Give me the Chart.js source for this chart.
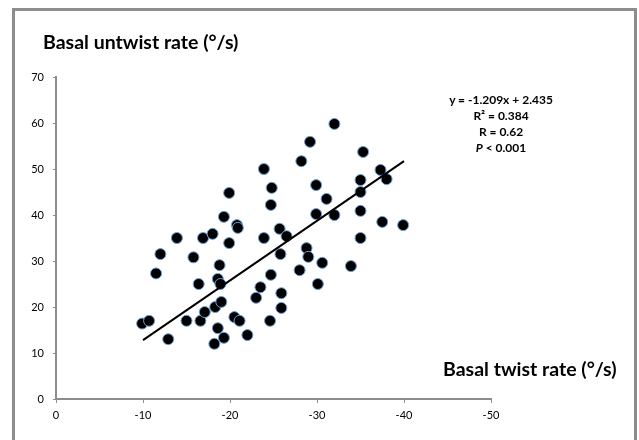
<!DOCTYPE html>
<html>
<head>
<meta charset="utf-8">
<script src="https://cdn.jsdelivr.net/npm/chart.js@4/dist/chart.umd.min.js"></script>
<style>
    body { margin: 0; background: #fff; }
    #wrap { position: relative; width: 639px; height: 440px; overflow: hidden; font-family: Lato, sans-serif; }
    #frame { position: absolute; left: 12px; top: 8px; width: 619px; height: 440px; border: 3px solid #8c8c8c; border-bottom: none; }
    #chart { position: absolute; left: 0; top: 0; }
    .ttl { position: absolute; font-weight: bold; font-size: 19.5px; line-height: 22px; color: #000; white-space: nowrap; }
    #note { position: absolute; left: 441px; top: 92px; width: 120px; text-align: center; font-weight: bold; font-size: 12px; line-height: 16px; color: #000; }
</style>
</head>
<body>
<div id="wrap">
    <div id="frame"></div>
    <canvas id="chart" width="639" height="440"></canvas>
    <div class="ttl" style="left:43px;top:31px;">Basal untwist rate (°/s)</div>
    <div class="ttl" style="left:443px;top:358px;">Basal twist rate (°/s)</div>
    <div id="note">y = -1.209x + 2.435<br>R² = 0.384<br>R = 0.62<br><i>P</i> &lt; 0.001</div>
</div>
<script>
// basal twist rate (x) and basal untwist rate (y)
const twistRate = [
    -9.9, -10.7, -12.9, -11.5, -12.0, -13.9, -15.0, -15.8, -16.4, -16.6,
    -17.1, -16.9, -18.0, -18.3, -18.2, -18.6, -18.8, -18.6, -18.9, -19.0,
    -19.3, -19.3, -19.9, -19.9, -20.5, -20.8, -20.9, -21.1, -22.0, -23.0,
    -23.5, -23.9, -23.9, -24.8, -24.7, -24.7, -24.6, -25.7, -26.5, -25.8,
    -25.9, -25.9, -28.0, -28.2, -28.8, -29.0, -29.2, -29.9, -29.9, -30.1,
    -30.6, -31.1, -32.0, -32.0, -33.9, -35.0, -35.0, -35.0, -35.0, -35.3,
    -37.3, -38.0, -37.5, -39.9
];
const untwistRate = [
    16.4, 17.0, 13.0, 27.3, 31.5, 35.0, 17.0, 30.8, 25.0, 17.0,
    18.9, 35.0, 35.9, 20.0, 12.0, 15.4, 29.1, 26.1, 25.0, 21.1,
    13.3, 39.6, 44.8, 33.9, 17.8, 37.8, 37.2, 17.0, 13.9, 22.0,
    24.3, 35.0, 50.0, 45.9, 42.2, 27.0, 17.0, 37.0, 35.4, 31.5,
    23.0, 19.8, 28.0, 51.7, 32.8, 30.9, 55.9, 46.5, 40.2, 25.0,
    29.6, 43.5, 59.8, 40.0, 28.9, 47.6, 45.0, 40.9, 35.0, 53.7,
    49.8, 47.8, 38.5, 37.8
];
// trend line ends as drawn
const trendX = [-10, -40];
const trendY = [12.8, 51.7];

const axisGrey = '#8c8c8c';
const tickFont = { family: 'Lato, sans-serif', size: 11 };

const points = twistRate.map((x, i) => ({ x: x, y: untwistRate[i] }));
const trend = trendX.map((x, i) => ({ x: x, y: trendY[i] }));

const ctx = document.getElementById('chart').getContext('2d');
new Chart(ctx, {
    type: 'scatter',
    data: {
        datasets: [{
            data: trend,
            showLine: true,
            borderColor: '#000',
            borderWidth: 2,
            pointRadius: 0,
            order: 0
        }, {
            data: points,
            backgroundColor: '#000',
            borderColor: '#6f9fd4',
            borderWidth: 1,
            pointRadius: 5.5,
            order: 1
        }]
    },
    options: {
        responsive: false,
        animation: false,
        layout: { padding: { left: 0, right: 148, top: 77, bottom: 11 } },
        plugins: { legend: { display: false }, tooltip: { enabled: false } },
        scales: {
            x: {
                type: 'linear',
                reverse: true,
                min: -50,
                max: 0,
                afterFit: s => { s.height = 30; },
                ticks: { stepSize: 10, color: '#000', font: tickFont, padding: 6 },
                grid: { drawOnChartArea: false, tickLength: 4, color: axisGrey, lineWidth: 1 },
                border: { color: axisGrey, width: 2 }
            },
            y: {
                min: 0,
                max: 70,
                afterFit: s => { s.width = 56; },
                ticks: { stepSize: 10, color: '#000', font: tickFont, padding: 9 },
                grid: { drawOnChartArea: false, tickLength: 3, color: axisGrey, lineWidth: 1 },
                border: { color: axisGrey, width: 2 }
            }
        }
    }
});
</script>
</body>
</html>
